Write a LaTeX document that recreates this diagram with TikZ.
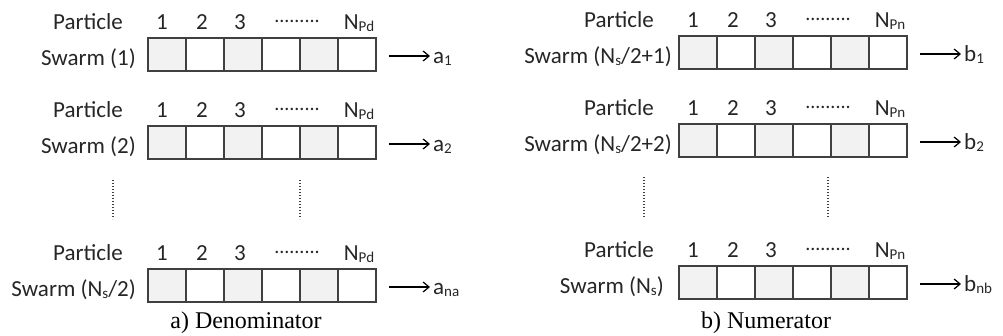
\documentclass[tikz,border=0pt]{standalone}
\usepackage{fontspec}
\setmainfont{Carlito}
\newfontfamily\capfont{Liberation Serif}
\usetikzlibrary{arrows.meta}
\definecolor{cellgray}{HTML}{F2F2F2}
\definecolor{linegray}{HTML}{404040}
\definecolor{txtgray}{HTML}{262626}
\newcommand\lowsub[1]{\raisebox{-0.25ex}{\fontsize{15}{15}\selectfont #1}}
\tikzset{
  cell/.style={draw=linegray, line width=1.3pt, minimum width=38pt, minimum height=33pt,
    inner sep=0pt, outer sep=0pt, fill=white, anchor=north west},
  shadedcell/.style={cell, fill=cellgray},
  lbl/.style={font=\fontsize{23}{27}\selectfont, inner sep=0pt, text=txtgray},
  caplbl/.style={font=\capfont\fontsize{24}{28}\selectfont, inner sep=0pt, text=black},
  arr/.style={draw=black, line width=1.2pt, -{Straight Barb[length=6pt,width=10pt]}},
  vdots/.style={draw=linegray, line width=2pt, dash pattern=on 1.4pt off 1.6pt},
}
% #1 prefix, #2 box left x, #3 box top y, #4 swarm label right x, #5 swarm text, #6 N sub, #7 output text
\newcommand\drawrow[7]{%
  \foreach \i in {1,...,6}{%
    \pgfmathsetmacro\cx{#2+38*(\i-1)}%
    \ifodd\i
      \node[shadedcell] (#1c\i) at (\cx,#3) {};
    \else
      \node[cell] (#1c\i) at (\cx,#3) {};
    \fi
  }
  \node[lbl, anchor=base east] (#1p) at (#2-25,#3-9) {Particle};
  \node[lbl, anchor=base] (#1n1) at (#2+14,#3-9) {1};
  \node[lbl, anchor=base] (#1n2) at (#2+54,#3-9) {2};
  \node[lbl, anchor=base] (#1n3) at (#2+92,#3-9) {3};
  \node[lbl, anchor=base] (#1nd) at (#2+149,#3-9) {\raisebox{7pt}{\fontsize{20}{20}\selectfont .........}};
  \node[lbl, anchor=base] (#1nN) at (#2+211,#3-9) {N\lowsub{#6}};
  \node[lbl, anchor=base east] (#1s) at (#4,#3+27) {#5};
  \node[lbl, anchor=base west] (#1o) at (#2+285,#3+25) {#7};
  \draw[arr] ([xshift=13pt,yshift=-1.5pt]#1c6.east) -- ([xshift=54pt,yshift=-1.5pt]#1c6.east);
}
\begin{document}
\begin{tikzpicture}[x=1pt,y=-1pt]
\useasboundingbox (0,0) rectangle (1003,335);
% left panel
\drawrow{La}{148}{38}{136}{Swarm (1)}{Pd}{a\lowsub{1}}
\drawrow{Lb}{148}{126}{136}{Swarm (2)}{Pd}{a\lowsub{2}}
\drawrow{Lc}{148}{269}{136}{Swarm (N\lowsub{s}/2)}{Pd}{a\lowsub{na}}
\draw[vdots] (113,180) -- (113,219);
\draw[vdots] (300,180) -- (300,219);
\node[caplbl, anchor=base] (capa) at (246,328) {a) Denominator};
% right panel
\drawrow{Ra}{679}{36}{672}{Swarm (N\lowsub{s}/2+1)}{Pn}{b\lowsub{1}}
\drawrow{Rb}{679}{124}{672}{Swarm (N\lowsub{s}/2+2)}{Pn}{b\lowsub{2}}
\drawrow{Rc}{679}{266}{664}{Swarm (N\lowsub{s})}{Pn}{b\lowsub{nb}}
\draw[vdots] (644,177) -- (644,217);
\draw[vdots] (828,177) -- (828,217);
\node[caplbl, anchor=base] (capb) at (766,328) {b) Numerator};
\end{tikzpicture}
\end{document}
